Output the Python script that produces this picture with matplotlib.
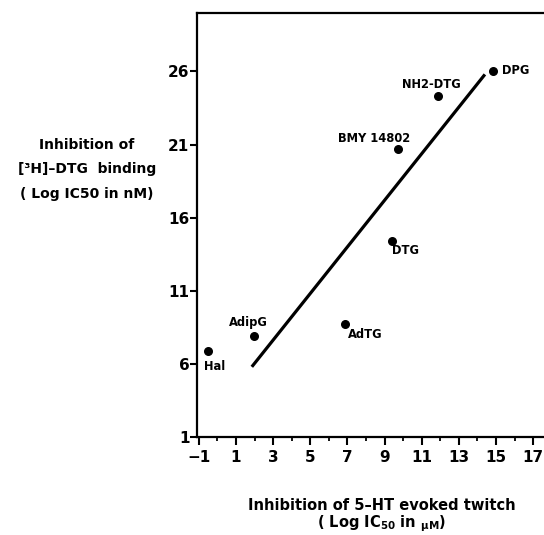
import matplotlib
matplotlib.use("Agg")
import matplotlib.pyplot as plt
from matplotlib.ticker import MultipleLocator, FixedLocator

plt.rcParams['font.family'] = ['DejaVu Sans']
plt.rcParams['font.weight'] = 'bold'
plt.rcParams['mathtext.fontset'] = 'custom'
plt.rcParams['mathtext.rm'] = 'DejaVu Sans:bold'
plt.rcParams['mathtext.it'] = 'DejaVu Sans:bold'
plt.rcParams['mathtext.bf'] = 'DejaVu Sans:bold'
plt.rcParams['mathtext.default'] = 'rm'

# Compounds: twitch inhibition (x) vs. [3H]-DTG binding inhibition (y)
compounds = ["Hal", "AdipG", "AdTG", "DTG", "BMY 14802", "NH2-DTG", "DPG"]
twitch_log_ic50 = [-0.5, 1.95, 6.85, 9.4, 9.7, 11.9, 14.85]
binding_log_ic50 = [6.9, 7.9, 8.7, 14.4, 20.7, 24.3, 26.0]

# Regression line end points
fit_x = [1.85, 14.4]
fit_y = [5.8, 25.8]

x_ticks = [-1, 1, 3, 5, 7, 9, 11, 13, 15, 17]
y_ticks = [1, 6, 11, 16, 21, 26]

# Label offsets (pixels) and alignment for each compound
label_offsets = {
    "Hal": ((-4, -16), "left"),
    "AdipG": ((-5, 14), "center"),
    "AdTG": ((3, -10), "left"),
    "DTG": ((0, -9), "left"),
    "BMY 14802": ((-23, 10), "center"),
    "NH2-DTG": ((-7, 12), "center"),
    "DPG": ((9, 1), "left"),
}

fig = plt.figure(figsize=(5.44, 5.35), dpi=100)
ax = fig.add_axes([197 / 544, 98 / 535, 352 / 544, 424 / 535])

ax.plot(fit_x, fit_y, color="black", lw=2.3, solid_capstyle="butt")
ax.scatter(twitch_log_ic50, binding_log_ic50, s=30, color="black", zorder=3)

for name, x, y in zip(compounds, twitch_log_ic50, binding_log_ic50):
    off, ha = label_offsets[name]
    ax.annotate(name, (x, y), xytext=off, textcoords="offset pixels",
                ha=ha, va="center", fontsize=8.3, fontweight="bold")

ax.set_xlim(-1.1, 17.85)
ax.set_ylim(1, 30)
ax.xaxis.set_major_locator(FixedLocator(x_ticks))
ax.xaxis.set_minor_locator(MultipleLocator(2))
ax.yaxis.set_major_locator(FixedLocator(y_ticks))

for s in ax.spines.values():
    s.set_linewidth(1.6)

ax.tick_params(axis="y", which="major", direction="out", length=5, width=1.5,
               labelsize=11, pad=0.5)
ax.tick_params(axis="x", which="major", direction="out", length=6, width=1.5,
               labelsize=11, pad=3.5)
ax.tick_params(axis="x", which="minor", direction="out", length=3, width=1.3)
ax.set_xticklabels(["\u22121" if t == -1 else str(t) for t in x_ticks])
for lab in ax.get_xticklabels() + ax.get_yticklabels():
    lab.set_fontweight("bold")

ylabel_lines = ["Inhibition of", "[\u00b3H]\u2013DTG  binding", "( Log IC50 in nM)"]
for line, ypix in zip(ylabel_lines, [145, 169, 194]):
    fig.text(87 / 544, 1 - ypix / 535, line, ha="center", va="center",
             fontsize=10, fontweight="bold")

fig.text(382 / 544, 1 - 506 / 535, "Inhibition of 5\u2013HT evoked twitch",
         ha="center", va="center", fontsize=10.5, fontweight="bold")
fig.text(382 / 544, 1 - 524 / 535, "( Log IC$_{50}$ in $_{\u03bcM}$)",
         ha="center", va="center", fontsize=10.5, fontweight="bold")

fig.savefig("out.png", dpi=100)
